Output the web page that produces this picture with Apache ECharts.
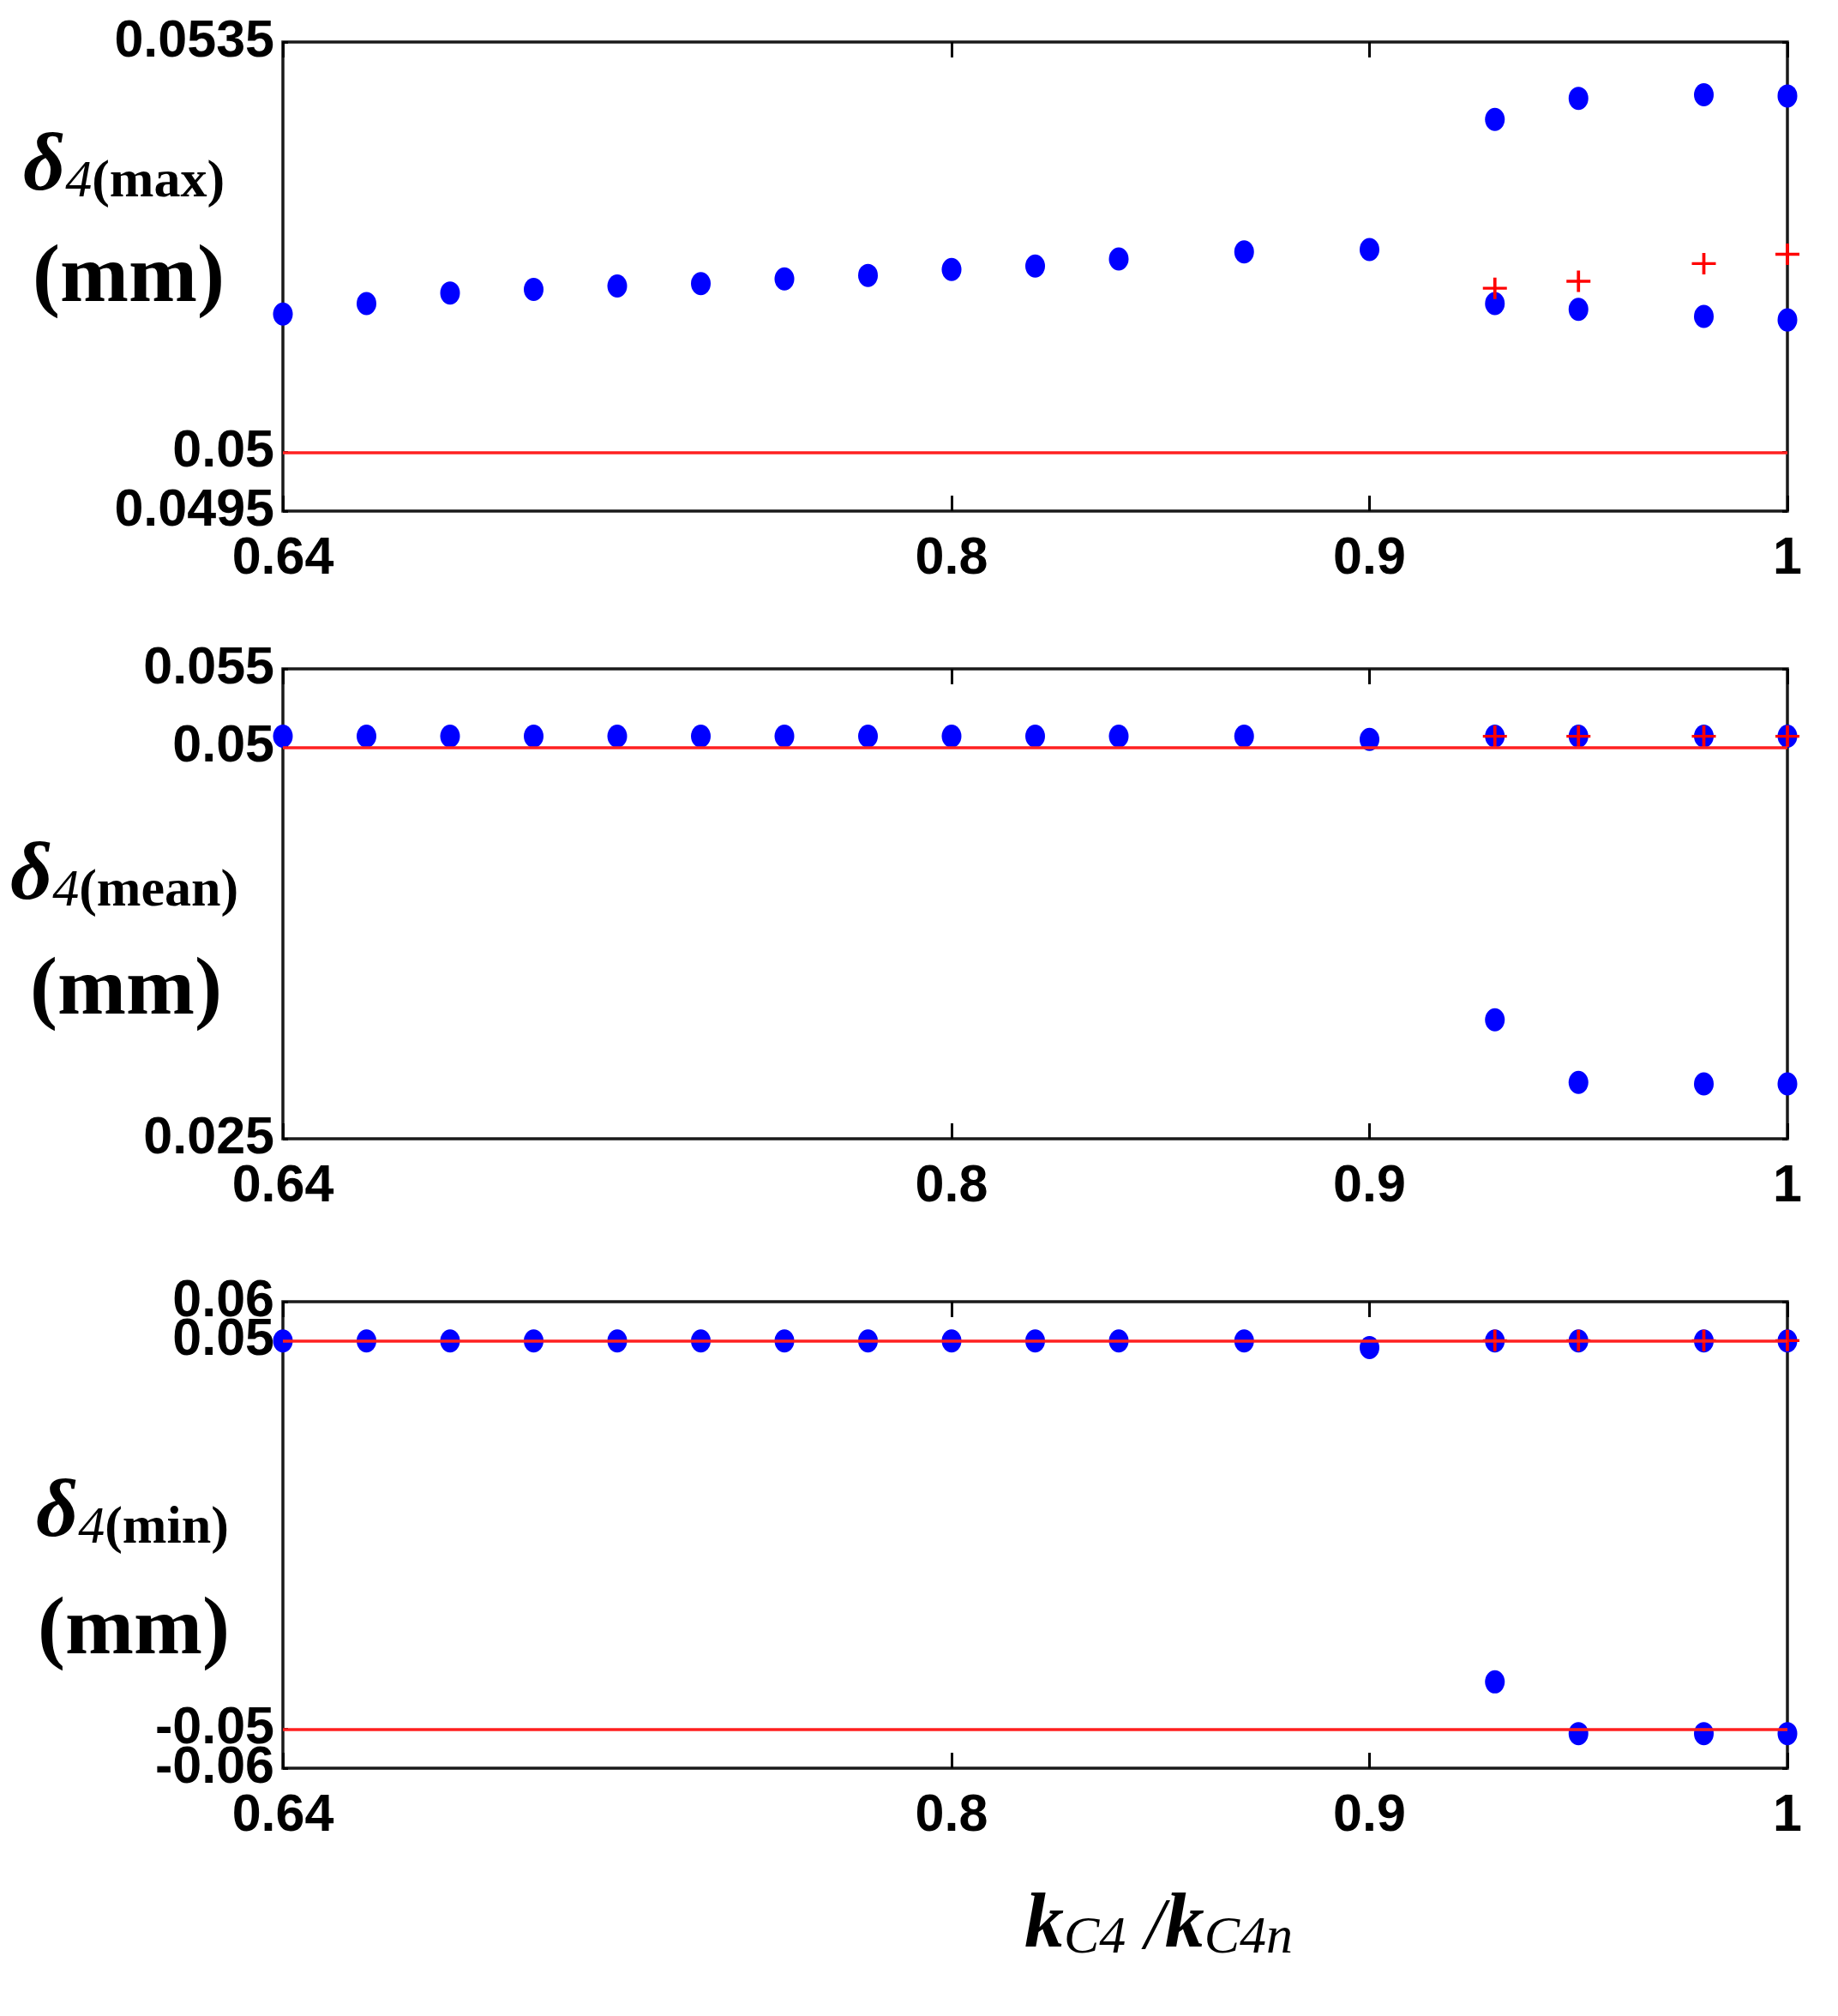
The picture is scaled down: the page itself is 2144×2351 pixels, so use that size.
<!DOCTYPE html>
<html>
<head>
<meta charset="utf-8">
<script src="https://cdn.jsdelivr.net/npm/echarts@6/dist/echarts.min.js"></script>
<style>
html,body{margin:0;padding:0;background:#fff;}
#chart{width:2144px;height:2351px;}
</style>
</head>
<body>
<div id="chart"></div>
<script>
// ---- data ----
const kRatio = [0.64,0.66,0.68,0.70,0.72,0.74,0.76,0.78,0.80,0.82,0.84,0.87,0.90,0.93,0.95,0.98,1.00];
const kSplit = [0.93,0.95,0.98,1.00];

const maxMain  = [0.05118,0.05127,0.05136,0.05139,0.05142,0.05144,0.05148,0.05151,0.05156,0.05159,0.05165,0.05171,0.05173,0.05127,0.05122,0.05116,0.05113];
const maxUpper = [0.05284,0.05302,0.05305,0.05304];
const maxRed   = [0.05140,0.05146,0.05161,0.05169];
const maxRef   = [0.05];

const meanMain  = [0.0507,0.0507,0.0507,0.0507,0.0507,0.0507,0.0507,0.0507,0.0507,0.0507,0.0507,0.0507,0.0505,0.0507,0.0507,0.0507,0.0507];
const meanLower = [0.0326,0.0286,0.0285,0.0285];
const meanRed   = [0.0507,0.0507,0.0507,0.0507];
const meanRef   = [0.05];

const minMain  = [0.0499,0.0499,0.0499,0.0499,0.0499,0.0499,0.0499,0.0499,0.0499,0.0499,0.0499,0.0499,0.0482,0.0499,0.0499,0.0499,0.0499];
const minLower = [-0.0378,-0.0511,-0.0511,-0.0511];
const minRed   = [0.05,0.05,0.05,0.05];
const minRef   = [0.05,-0.05];

const xTicks    = [0.64,0.8,0.9,1];
// y tick labels: axis-end labels and inner labels
const maxTicksEnd  = [0.0495,0.0535], maxTicksIn  = [0.05];
const meanTicksEnd = [0.025,0.055],   meanTicksIn = [0.05];
const minTicksEnd  = [-0.06,0.06],    minTicksIn  = [-0.05,0.05];

// ---- chart ----
const chart = echarts.init(document.getElementById('chart'), null, {renderer:'canvas'});
const BLUE = '#0000ff', RED = '#ff0000';
const plusPath = 'path://M0,10.4H10.4V0H13.6V10.4H24V13.6H13.6V24H10.4V13.6H0Z';
const labelFont = {fontFamily:'Liberation Sans, Arial, sans-serif', fontWeight:'bold', fontSize:61, color:'#000'};
const fmt = v => String(+(+v).toFixed(4));

const panels = [
  {top:49,  height:547, end:maxTicksEnd,  inner:maxTicksIn,  main:maxMain,  extra:maxUpper,  red:maxRed,  ref:maxRef},
  {top:780, height:548, end:meanTicksEnd, inner:meanTicksIn, main:meanMain, extra:meanLower, red:meanRed, ref:meanRef},
  {top:1518,height:544, end:minTicksEnd,  inner:minTicksIn,  main:minMain,  extra:minLower,  red:minRed,  ref:minRef}
];

const grid = [], xAxis = [], yAxis = [], series = [];
panels.forEach((p, i) => {
  grid.push({left:330, right:59, top:p.top, height:p.height, show:true, borderColor:'#1a1a1a', borderWidth:3.5, backgroundColor:'transparent'});
  const all = p.end.concat(p.inner);
  const ymin = Math.min(...all), ymax = Math.max(...all);
  const xBase = {type:'value', gridIndex:i, min:xTicks[0], max:xTicks[xTicks.length-1],
    axisLine:{show:false, onZero:false}, splitLine:{show:false},
    axisTick:{show:true, inside:true, length:18, lineStyle:{color:'#000', width:3}, customValues:xTicks}};
  xAxis.push(Object.assign({}, xBase, {position:'bottom',
    axisLabel:Object.assign({show:true, margin:26, customValues:xTicks, formatter:fmt, showMinLabel:true, showMaxLabel:true}, labelFont)}));
  xAxis.push(Object.assign({}, xBase, {position:'top', axisLabel:{show:false}}));
  const yBase = {type:'value', gridIndex:i, min:ymin, max:ymax, offset:0,
    axisLine:{show:false, onZero:false}, splitLine:{show:false},
    axisTick:{show:true, inside:true, length:6, lineStyle:{color:'#000', width:3}, customValues:all}};
  const yIdx = yAxis.length;
  yAxis.push(Object.assign({}, yBase, {position:'left',
    axisLabel:Object.assign({show:true, margin:10, customValues:p.end, formatter:fmt, showMinLabel:true, showMaxLabel:true, hideOverlap:false}, labelFont)}));
  yAxis.push(Object.assign({}, yBase, {position:'right', axisLabel:{show:false}}));
  yAxis.push(Object.assign({}, yBase, {position:'left', axisTick:{show:false},
    axisLabel:Object.assign({show:true, margin:10, customValues:p.inner, formatter:fmt, hideOverlap:false}, labelFont)}));
  series.push({type:'scatter', xAxisIndex:2*i, yAxisIndex:yIdx, symbol:'circle', symbolSize:[23,27],
    itemStyle:{color:BLUE, opacity:1}, silent:true, z:2,
    data:kRatio.map((x,j)=>[x,p.main[j]])});
  series.push({type:'scatter', xAxisIndex:2*i, yAxisIndex:yIdx, symbol:'circle', symbolSize:[23,27],
    itemStyle:{color:BLUE, opacity:1}, silent:true, z:2,
    data:kSplit.map((x,j)=>[x,p.extra[j]])});
  series.push({type:'scatter', xAxisIndex:2*i, yAxisIndex:yIdx, symbol:plusPath, symbolSize:[28,25],
    itemStyle:{color:RED, opacity:1}, silent:true, z:4,
    data:kSplit.map((x,j)=>[x,p.red[j]]),
    markLine:{silent:true, symbol:['none','none'], label:{show:false},
      lineStyle:{color:'#ff2020', width:3.5, type:'solid', opacity:1}, emphasis:{disabled:true},
      data:p.ref.map(v=>({yAxis:v}))}});
});

const serif = 'Liberation Serif, Times New Roman, serif';
function yTitle(sub, x, y) {
  return {type:'text', left:x, top:y, z:10, silent:true,
    style:{text:'{d|δ}{n|4}{p|' + sub + '}', rich:{
      d:{fontFamily:serif, fontStyle:'italic', fontWeight:'bold', fontSize:96, fill:'#000', verticalAlign:'bottom'},
      n:{fontFamily:serif, fontStyle:'italic', fontSize:62, fill:'#000', verticalAlign:'bottom'},
      p:{fontFamily:serif, fontWeight:'bold', fontSize:62, fill:'#000', verticalAlign:'bottom'}
    }}};
}
function mm(cx, cy) {
  return {type:'text', x:cx, y:cy, z:10, silent:true,
    style:{text:'(mm)', fontFamily:serif, fontWeight:'bold', fontSize:96, fill:'#000', align:'center', verticalAlign:'middle'}};
}

const graphic = [
  yTitle('(max)', 27, 148), mm(150, 326),
  yTitle('(mean)', 12, 975), mm(147, 1157),
  yTitle('(min)', 42, 1718), mm(156, 1903),
  {type:'text', left:1195, top:2200, z:10, silent:true,
   style:{text:'{k|k}{s|C4}{sp| }{sl|/}{k|k}{s|C4n}', rich:{
     k:{fontFamily:serif, fontStyle:'italic', fontWeight:'bold', fontSize:92, fill:'#000', verticalAlign:'bottom'},
     s:{fontFamily:serif, fontStyle:'italic', fontSize:62, fill:'#000', verticalAlign:'bottom'},
     sp:{fontFamily:serif, fontSize:62, fill:'#000', verticalAlign:'bottom', width:22},
     sl:{fontFamily:serif, fontStyle:'italic', fontSize:84, fill:'#000', verticalAlign:'bottom'}
   }}}
];

chart.setOption({backgroundColor:'#fff', animation:false, grid, xAxis, yAxis, series, graphic});
</script>
</body>
</html>
